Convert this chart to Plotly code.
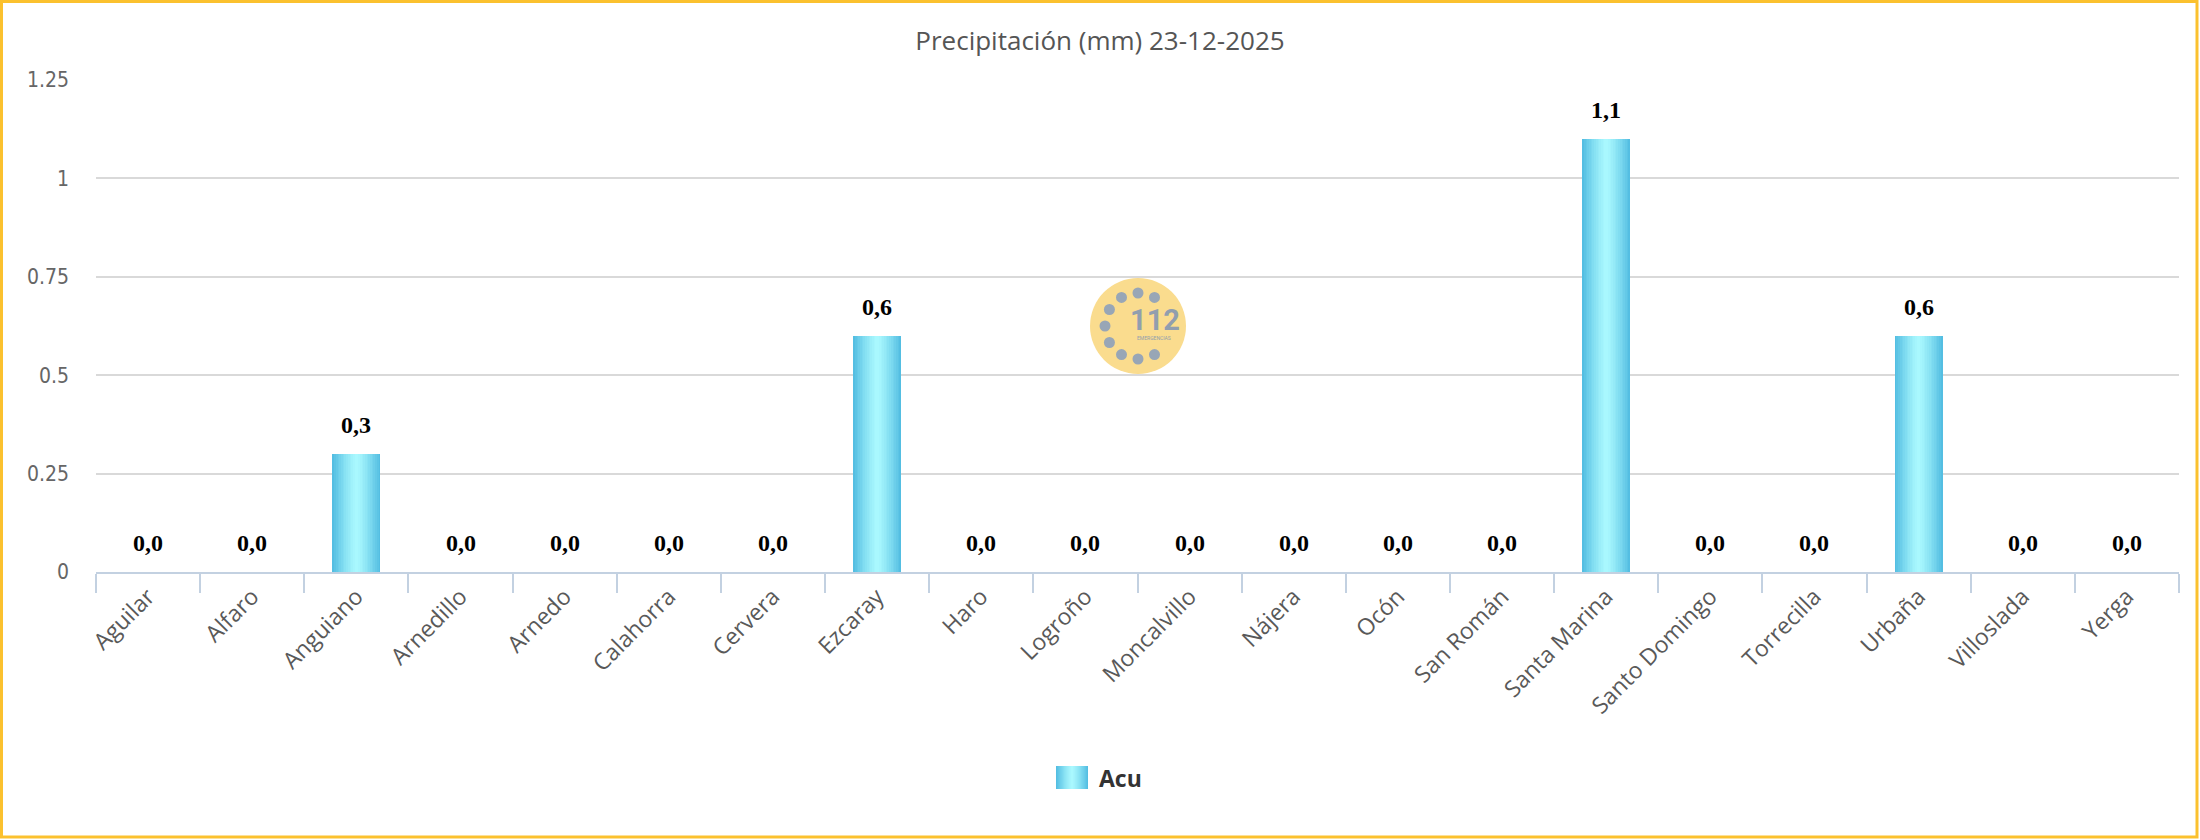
import plotly.graph_objects as go
import math

# ---------------- data ----------------
categories = ["Aguilar", "Alfaro", "Anguiano", "Arnedillo", "Arnedo", "Calahorra",
              "Cervera", "Ezcaray", "Haro", "Logroño", "Moncalvillo", "Nájera",
              "Ocón", "San Román", "Santa Marina", "Santo Domingo", "Torrecilla",
              "Urbaña", "Villoslada", "Yerga"]
acu_values = [0.0, 0.0, 0.3, 0.0, 0.0, 0.0, 0.0, 0.6, 0.0, 0.0, 0.0, 0.0,
              0.0, 0.0, 1.1, 0.0, 0.0, 0.6, 0.0, 0.0]
series_name = "Acu"
title_text = "Precipitación (mm) 23-12-2025"
y_tickvals = [0, 0.25, 0.5, 0.75, 1, 1.25]
y_ticktext = ["0", "0.25", "0.5", "0.75", "1", "1.25"]

# ---------------- layout constants ----------------
W, H = 2200, 840
ML, MR, MT, MB = 96, 21, 80, 268
PW, PH = W - ML - MR, H - MT - MB

def px(x):  # pixel x -> paper x
    return (x - ML) / PW

def py(y):  # pixel y -> paper y
    return (H - MB - y) / PH

EDGE = (84, 190, 226)
CENTER = (172, 250, 255)
N_LAYERS = 14
BAR_W = 0.46

def mix(t):
    return "rgb(%d,%d,%d)" % tuple(round(CENTER[i] + (EDGE[i] - CENTER[i]) * t) for i in range(3))

fig = go.Figure()

# gradient bars: overlaid bars of decreasing width
for i in range(N_LAYERS):
    frac = 1 - i / N_LAYERS
    fig.add_trace(go.Bar(
        x=categories, y=acu_values, width=BAR_W * frac,
        marker=dict(color=mix(frac ** 1.3), line=dict(width=0)),
        name=series_name, showlegend=False, hoverinfo="x+y" if i == 0 else "skip",
    ))

# value labels
annotations = []
for c, v in zip(categories, acu_values):
    annotations.append(dict(
        x=c, y=v, xref="x", yref="y", text="<b>" + f"{v:.1f}".replace(".", ",") + "</b>",
        showarrow=False, yanchor="middle", yshift=29,
        font=dict(family="Liberation Serif, DejaVu Serif, serif", size=24, color="#000000"),
    ))

# legend (custom, larger swatch)
sw_x0, sw_x1, sw_y0, sw_y1 = 1056, 1088, 766, 789
shapes = []
for i in range(N_LAYERS):
    frac = 1 - i / N_LAYERS
    cx = (sw_x0 + sw_x1) / 2
    half = (sw_x1 - sw_x0) / 2 * frac
    shapes.append(dict(type="rect", xref="paper", yref="paper",
                       x0=px(cx - half), x1=px(cx + half), y0=py(sw_y1), y1=py(sw_y0),
                       fillcolor=mix(frac ** 1.3), line=dict(width=0), layer="above"))
annotations.append(dict(x=px(1097), y=py(778), xref="paper", yref="paper", text="<b>" + series_name + "</b>",
                        showarrow=False, xanchor="left", yanchor="middle",
                        font=dict(family="Open Sans, sans-serif", size=23, color="#333333")))

# 112 watermark logo
lcx, lcy, lr = 1138, 326, 48
shapes.append(dict(type="circle", xref="paper", yref="paper",
                   x0=px(lcx - lr), x1=px(lcx + lr), y0=py(lcy + lr), y1=py(lcy - lr),
                   fillcolor="rgb(250,220,142)", line=dict(width=0), layer="below"))
for ang in [90, 60, 120, 150, 180, 210, 240, 270, 300]:
    dx = 33 * math.cos(math.radians(ang))
    dy = -33 * math.sin(math.radians(ang))
    r = 5.5
    shapes.append(dict(type="circle", xref="paper", yref="paper",
                       x0=px(lcx + dx - r), x1=px(lcx + dx + r),
                       y0=py(lcy + dy + r), y1=py(lcy + dy - r),
                       fillcolor="rgb(152,166,182)", line=dict(width=0), layer="below"))
annotations.append(dict(x=px(1155), y=py(320), xref="paper", yref="paper", text="<b>112</b>",
                        showarrow=False, xanchor="center", yanchor="middle",
                        font=dict(family="Roboto, Open Sans, sans-serif", size=29, color="rgb(145,158,174)")))
annotations.append(dict(x=px(1154), y=py(338), xref="paper", yref="paper", text="EMERGENCIAS",
                        showarrow=False, xanchor="center", yanchor="middle",
                        font=dict(family="Roboto, sans-serif", size=5, color="rgb(145,158,174)")))

# yellow frame
shapes.append(dict(type="rect", xref="paper", yref="paper",
                   x0=px(1.5), x1=px(2197), y0=py(837), y1=py(1.5),
                   line=dict(color="#FBC12E", width=3), fillcolor="rgba(0,0,0,0)", layer="above"))

fig.update_layout(
    width=W, height=H,
    margin=dict(l=ML, r=MR, t=MT, b=MB, pad=0),
    paper_bgcolor="white", plot_bgcolor="white",
    barmode="overlay", bargap=0,
    showlegend=False,
    title=dict(text=title_text, x=0.5, xref="container", xanchor="center",
               y=1 - 41 / H, yref="container", yanchor="middle",
               font=dict(family="Open Sans, sans-serif", size=26, color="#555555")),
    xaxis=dict(
        type="category", categoryorder="array", categoryarray=categories,
        showline=True, linecolor="#C3D1E1", linewidth=2,
        ticks="outside", tickson="boundaries", ticklen=19, tickwidth=2, tickcolor="#C3D1E1",
        tickangle=-45, showgrid=False,
        tickfont=dict(family="Open Sans, sans-serif", size=23, color="#595959"),
        range=[-0.5, len(categories) - 0.5],
    ),
    yaxis=dict(
        range=[0, 1.25], tickvals=y_tickvals, ticktext=y_ticktext,
        showgrid=True, gridcolor="#D9D9D9", gridwidth=2,
        zeroline=False, showline=False, ticks="",
        ticklabelstandoff=26,
        tickfont=dict(family="Liberation Sans Narrow, DejaVu Sans Condensed, Roboto, sans-serif",
                      size=21, color="#666666"),
    ),
    shapes=shapes,
    annotations=annotations,
)

fig.write_html("out.html")
